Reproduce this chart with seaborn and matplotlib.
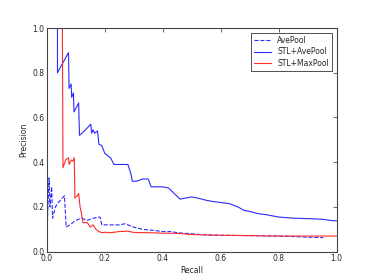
import numpy as np
import pandas as pd
import matplotlib
matplotlib.use("Agg")
import matplotlib.pyplot as plt
import seaborn as sns

# Precision/recall points
ave_recall = [0.0, 0.003, 0.008, 0.011, 0.017, 0.02, 0.03, 0.04, 0.061, 0.067, 0.08, 0.1, 0.12,
              0.14, 0.16, 0.184, 0.19, 0.25, 0.27, 0.3, 0.33, 0.37, 0.4, 0.43, 0.45, 0.5,
              0.55, 0.6, 0.7, 0.8, 0.85, 0.9, 0.954]
ave_prec = [0.0, 0.17, 0.33, 0.2, 0.29, 0.15, 0.2, 0.22, 0.25, 0.11, 0.12, 0.14, 0.15,
            0.14, 0.15, 0.155, 0.12, 0.12, 0.125, 0.11, 0.1, 0.095, 0.09, 0.09, 0.085, 0.08,
            0.075, 0.073, 0.072, 0.07, 0.068, 0.065, 0.063]

stl_ave_recall = [0.037, 0.037, 0.075, 0.077, 0.084, 0.086, 0.092, 0.094, 0.11, 0.113, 0.13,
                  0.152, 0.155, 0.16, 0.165, 0.175, 0.18, 0.19, 0.2, 0.21, 0.22, 0.232, 0.27,
                  0.28, 0.29, 0.295, 0.31, 0.33, 0.35, 0.36, 0.4, 0.42, 0.44, 0.46, 0.48, 0.5,
                  0.52, 0.55, 0.57, 0.6, 0.63, 0.66, 0.68, 0.7, 0.73, 0.76, 0.8, 0.85, 0.9,
                  0.95, 0.98, 1.0]
stl_ave_prec = [1.0, 0.8, 0.89, 0.73, 0.75, 0.69, 0.71, 0.625, 0.665, 0.52, 0.54,
                0.57, 0.53, 0.545, 0.53, 0.54, 0.48, 0.475, 0.44, 0.43, 0.42, 0.39, 0.39,
                0.39, 0.35, 0.315, 0.315, 0.325, 0.325, 0.29, 0.29, 0.285, 0.26, 0.235, 0.24, 0.245,
                0.24, 0.23, 0.225, 0.22, 0.215, 0.2, 0.185, 0.18, 0.17, 0.165, 0.155, 0.15, 0.148,
                0.145, 0.14, 0.138]

stl_max_recall = [0.054, 0.056, 0.065, 0.075, 0.077, 0.085, 0.09, 0.095, 0.097, 0.105, 0.11,
                  0.115, 0.12, 0.125, 0.14, 0.145, 0.15, 0.16, 0.17, 0.18, 0.19, 0.2, 0.22,
                  0.25, 0.28, 0.3, 0.35, 0.4, 0.45, 0.5, 0.55, 0.6, 0.7, 0.8, 0.9, 1.0]
stl_max_prec = [1.0, 0.375, 0.41, 0.42, 0.39, 0.41, 0.405, 0.42, 0.24, 0.25, 0.26,
                0.2, 0.17, 0.13, 0.13, 0.12, 0.11, 0.12, 0.1, 0.09, 0.085, 0.087, 0.085,
                0.09, 0.092, 0.086, 0.085, 0.083, 0.082, 0.077, 0.075, 0.074, 0.072, 0.07, 0.07, 0.07]

sns.set_style("white")
plt.rcParams.update({
    "font.family": ["DejaVu Sans"],
    "font.size": 5.5,
    "xtick.direction": "in",
    "ytick.direction": "in",
    "xtick.top": True,
    "ytick.right": True,
    "xtick.major.size": 3,
    "ytick.major.size": 3,
    "xtick.major.width": 0.5,
    "ytick.major.width": 0.5,
    "axes.edgecolor": "#444444",
    "axes.linewidth": 0.8,
})

fig = plt.figure(figsize=(3.74, 2.80), dpi=100)
ax = fig.add_axes([0.125, 0.101, 0.775, 0.799])

sns.lineplot(x=ave_recall, y=ave_prec, ax=ax, estimator=None, sort=False,
             color="#2a2aff", linestyle="--", linewidth=0.8)
sns.lineplot(x=stl_ave_recall, y=stl_ave_prec, ax=ax, estimator=None, sort=False,
             color="#2a2aff", linewidth=0.8)
sns.lineplot(x=stl_max_recall, y=stl_max_prec, ax=ax, estimator=None, sort=False,
             color="#ff2a2a", linewidth=0.8)

ax.set_xlim(0, 1)
ax.set_ylim(0, 1)
ticks = np.arange(0, 1.01, 0.2)
ax.set_xticks(ticks)
ax.set_yticks(ticks)
ax.set_xticklabels([f"{v:.1f}" for v in ticks], fontsize=5.5)
ax.set_yticklabels([f"{v:.1f}" for v in ticks], fontsize=5.5)
ax.tick_params(pad=1.5)
ax.set_xlabel("Recall", fontsize=5.5, labelpad=2)
ax.set_ylabel("Precision", fontsize=5.5, labelpad=3)

leg = ax.legend(handles=ax.lines[:3], labels=["AvePool", "STL+AvePool", "STL+MaxPool"],
                loc="upper right", fontsize=5.5, fancybox=False, frameon=True,
                borderaxespad=0.6, handlelength=2.2, labelspacing=0.35)
leg.get_frame().set_edgecolor("black")
leg.get_frame().set_linewidth(0.6)

fig.savefig("out.png", dpi=100)
